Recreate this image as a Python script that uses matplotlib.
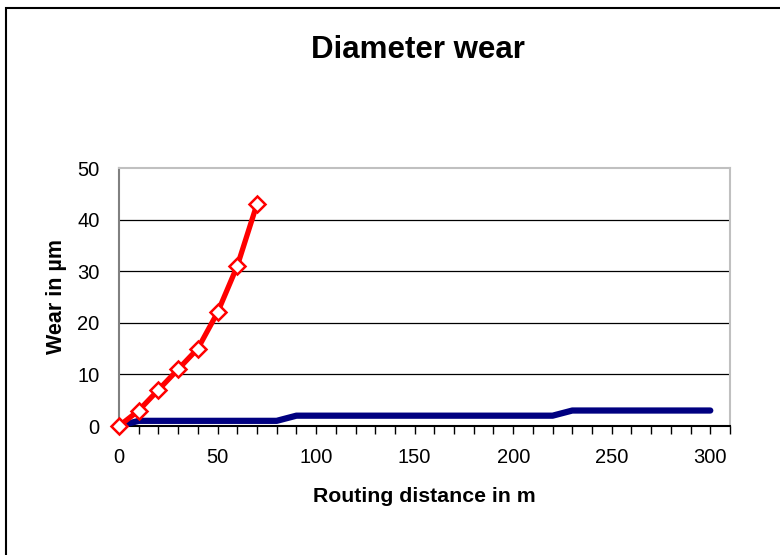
import matplotlib
matplotlib.use("Agg")
import matplotlib.pyplot as plt
from matplotlib.patches import Rectangle
from matplotlib.ticker import MultipleLocator

plt.rcParams['font.family'] = ['Liberation Sans', 'DejaVu Sans']

# Data
red_x = [0, 10, 20, 30, 40, 50, 60, 70]
red_y = [0, 3, 7, 11, 15, 22, 31, 43]
blue_x = [0, 10, 20, 30, 40, 50, 60, 70, 80, 90, 100, 110, 120, 130, 140, 150,
          160, 170, 180, 190, 200, 210, 220, 230, 240, 250, 260, 270, 280, 290, 300]
blue_y = [0, 1, 1, 1, 1, 1, 1, 1, 1, 2, 2, 2, 2, 2, 2, 2,
          2, 2, 2, 2, 2, 2, 2, 3, 3, 3, 3, 3, 3, 3, 3]
x_ticks = [0, 50, 100, 150, 200, 250, 300]
y_ticks = [0, 10, 20, 30, 40, 50]

fig = plt.figure(figsize=(7.8, 5.55), dpi=100)
ax = fig.add_axes([119/780, 1-426/555, (730-119)/780, (426-168)/555])

ax.plot(blue_x, blue_y, color='#000080', lw=4.5, solid_capstyle='round',
        solid_joinstyle='round', zorder=3, clip_on=False)
ax.plot(red_x, red_y, color='#ff0000', lw=3.8, marker='D', markersize=8,
        markerfacecolor='white', markeredgecolor='#ff0000', markeredgewidth=1.8,
        solid_joinstyle='round', zorder=4, clip_on=False)

ax.set_xlim(0, 310)
ax.set_ylim(0, 50)
ax.set_xticks(x_ticks)
ax.set_yticks(y_ticks)
ax.xaxis.set_minor_locator(MultipleLocator(10))
ax.tick_params(axis='x', which='both', direction='out', length=6, width=1, color='black',
               labelsize=14.5, pad=10)
ax.tick_params(axis='y', length=0, labelsize=14.5, pad=14)

for v in [10, 20, 30, 40]:
    ax.axhline(v, color='black', lw=0.9, zorder=1)

ax.spines['top'].set_color('#c0c0c0')
ax.spines['right'].set_color('#c0c0c0')
ax.spines['left'].set_color('#808080')
ax.spines['bottom'].set_color('black')
for s in ax.spines.values():
    s.set_linewidth(1.5)

ax.set_xlabel('Routing distance in m', fontsize=15.3, fontweight='bold', labelpad=14)
ax.set_ylabel('Wear in µm', fontsize=15.5, fontweight='bold', labelpad=7)

fig.text(418/780, 1-50/555, 'Diameter wear', fontsize=22.5, fontweight='bold',
         ha='center', va='center')

fig.patches.append(Rectangle((6/780, -0.1), 1.1, 1 - 8/555 + 0.1, transform=fig.transFigure,
                             fill=False, edgecolor='black', lw=1.5))

fig.savefig('out.png', dpi=100)
